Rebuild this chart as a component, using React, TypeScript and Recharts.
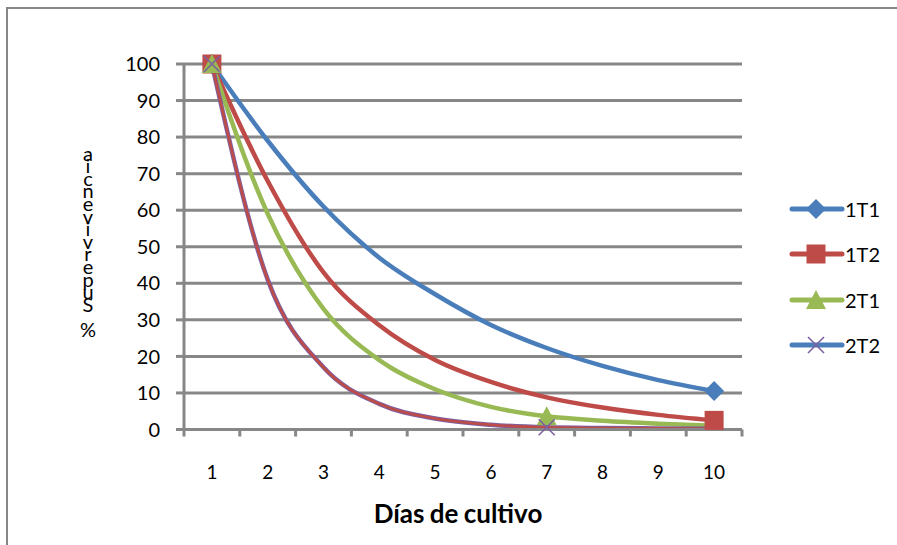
import React from "react";
import { LineChart, Line, CartesianGrid, XAxis, YAxis } from "recharts";

// survival (%) per culture day
const days = [1, 2, 3, 4, 5, 6, 7, 8, 9, 10];
const s1T1 = [100, 79, 61, 47, 37, 28.6, 22.3, 17.4, 13.5, 10.5];
const s1T2 = [100, 68, 43, 28.5, 19, 13, 8.8, 6, 4, 2.5];
const s2T1 = [100, 59, 33, 19, 11, 6.2, 3.6, 2.4, 1.6, 1.0];
const s2T2 = [100, 41, 17, 7, 3, 1.3, 0.6, 0.4, 0.3, 0.2];
const yTicks = [0, 10, 20, 30, 40, 50, 60, 70, 80, 90, 100];

// days that carry a marker in each series
const mark1T1 = [1, 10];
const mark1T2 = [1, 10];
const mark2T1 = [1, 7];
const mark2T2 = [1, 7];

const seriesNames = ["1T1", "1T2", "2T1", "2T2"];

const data = days.map((d, i) => ({
  day: d,
  "1T1": s1T1[i],
  "1T2": s1T2[i],
  "2T1": s2T1[i],
  "2T2": s2T2[i],
}));

const GRID = "#878787";
const FONT = "Lato, 'Open Sans', sans-serif";
const BLUE = "#4A7EBB";
const RED = "#BE4B48";
const GREEN = "#98B954";
const PURPLE = "#7D60A0";

const Marker = ({ kind, cx, cy }: { kind: string; cx: number; cy: number }) => {
  if (kind === "diamond")
    return (
      <path
        d={`M${cx},${cy - 10}L${cx + 10},${cy}L${cx},${cy + 10}L${cx - 10},${cy}Z`}
        fill={BLUE}
      />
    );
  if (kind === "square")
    return <rect x={cx - 9.5} y={cy - 9.5} width={19} height={19} fill={RED} />;
  if (kind === "triangle")
    return (
      <path
        d={`M${cx},${cy - 10}L${cx + 10},${cy + 9}L${cx - 10},${cy + 9}Z`}
        fill={GREEN}
      />
    );
  return (
    <g stroke={PURPLE} strokeWidth={1.6}>
      <line x1={cx - 8} y1={cy - 8} x2={cx + 8} y2={cy + 8} />
      <line x1={cx - 8} y1={cy + 8} x2={cx + 8} y2={cy - 8} />
    </g>
  );
};

const makeDot = (kind: string, marks: number[]) => (props: any) => {
  const { cx, cy, payload, index } = props;
  if (!marks.includes(payload.day)) return <g key={`d-${kind}-${index}`} />;
  return (
    <g key={`d-${kind}-${index}`}>
      <Marker kind={kind} cx={cx} cy={cy} />
    </g>
  );
};

const HALF = 27.9; // half a category width, tick marks sit between days

const DayTick = (props: any) => {
  const { x, y, payload, index } = props;
  return (
    <g>
      <line x1={x - HALF} y1={y - 7} x2={x - HALF} y2={y} stroke={GRID} strokeWidth={3} />
      {index === days.length - 1 && (
        <line x1={x + HALF} y1={y - 7} x2={x + HALF} y2={y} stroke={GRID} strokeWidth={3} />
      )}
      <text x={x} y={y + 29} dy="0.71em" textAnchor="middle" fontSize={19} fontFamily={FONT} fill="#000">
        {payload.value}
      </text>
    </g>
  );
};

const legendItems = [
  { name: seriesNames[0], color: BLUE, kind: "diamond" },
  { name: seriesNames[1], color: RED, kind: "square" },
  { name: seriesNames[2], color: GREEN, kind: "triangle" },
  { name: seriesNames[3], color: BLUE, kind: "cross" },
];

const SideLegend = () => (
  <div style={{ position: "absolute", left: 786, top: 186 }}>
    {legendItems.map((it) => (
      <div key={it.name} style={{ display: "flex", alignItems: "center", height: 45.5 }}>
        <svg width={60} height={30}>
          <line x1={6} y1={15} x2={56} y2={15} stroke={it.color} strokeWidth={5} strokeLinecap="round" />
          <Marker kind={it.kind} cx={30} cy={15} />
        </svg>
        <span style={{ fontFamily: FONT, fontSize: 20, color: "#000", marginLeft: -1 }}>{it.name}</span>
      </div>
    ))}
  </div>
);

const yTitle = "% Supervivencia".split("");

const YTitle = () => (
  <svg style={{ position: "absolute", left: 70, top: 130 }} width={40} height={220}>
    {yTitle.map((ch, i) => (
      <text
        key={i}
        x={18}
        y={207 - i * 12.6}
        textAnchor="middle"
        fontFamily={FONT}
        fontSize={20}
        fill="#000"
      >
        {ch}
      </text>
    ))}
  </svg>
);

export default function App() {
  return (
    <div
      style={{
        position: "absolute",
        left: 0,
        top: 0,
        width: 897,
        height: 545,
        overflow: "hidden",
        background: "#fff",
      }}
    >
      <div
        style={{
          position: "absolute",
          left: 6,
          top: 7,
          width: 900,
          height: 560,
          border: `2px solid ${GRID}`,
        }}
      />
      <div style={{ position: "absolute", left: 0, top: 0 }}>
        <LineChart
          width={897}
          height={545}
          data={data}
          margin={{ top: 64, right: 155, bottom: 55.5, left: 124 }}
        >
          <CartesianGrid vertical={false} stroke={GRID} strokeWidth={3} />
          <XAxis
            dataKey="day"
            type="number"
            domain={[0.5, 10.5]}
            ticks={days}
            interval={0}
            height={60}
            tickLine={false}
            tickSize={7}
            tickMargin={0}
            axisLine={{ stroke: GRID, strokeWidth: 3 }}
            tick={<DayTick />}
          />
          <YAxis
            domain={[0, 100]}
            ticks={yTicks}
            interval={0}
            width={60}
            tickSize={8}
            tickMargin={16}
            axisLine={{ stroke: GRID, strokeWidth: 3 }}
            tickLine={{ stroke: GRID, strokeWidth: 3 }}
            tick={{ fontSize: 20, fontFamily: FONT, fill: "#000" }}
          />
          <Line
            type="monotone"
            dataKey="1T1"
            stroke={BLUE}
            strokeWidth={4.5}
            dot={makeDot("diamond", mark1T1)}
            isAnimationActive={false}
          />
          <Line
            type="monotone"
            dataKey="1T2"
            stroke={RED}
            strokeWidth={4.5}
            dot={makeDot("square", mark1T2)}
            isAnimationActive={false}
          />
          <Line
            type="monotone"
            dataKey="2T1"
            stroke={GREEN}
            strokeWidth={4.5}
            dot={makeDot("triangle", mark2T1)}
            isAnimationActive={false}
          />
          <Line
            type="monotone"
            dataKey="2T2"
            stroke={PURPLE}
            strokeWidth={4.5}
            dot={false}
            isAnimationActive={false}
          />
          <Line
            type="monotone"
            dataKey="2T2"
            stroke={RED}
            strokeWidth={2.6}
            dot={makeDot("cross", mark2T2)}
            legendType="none"
            isAnimationActive={false}
          />
        </LineChart>
      </div>
      <YTitle />
      <SideLegend />
      <div
        style={{
          position: "absolute",
          left: 158,
          width: 600,
          top: 497,
          textAlign: "center",
          fontFamily: FONT,
          fontWeight: 700,
          fontSize: 26,
          color: "#000",
          wordSpacing: -1,
        }}
      >
        Días de cultivo
      </div>
    </div>
  );
}
